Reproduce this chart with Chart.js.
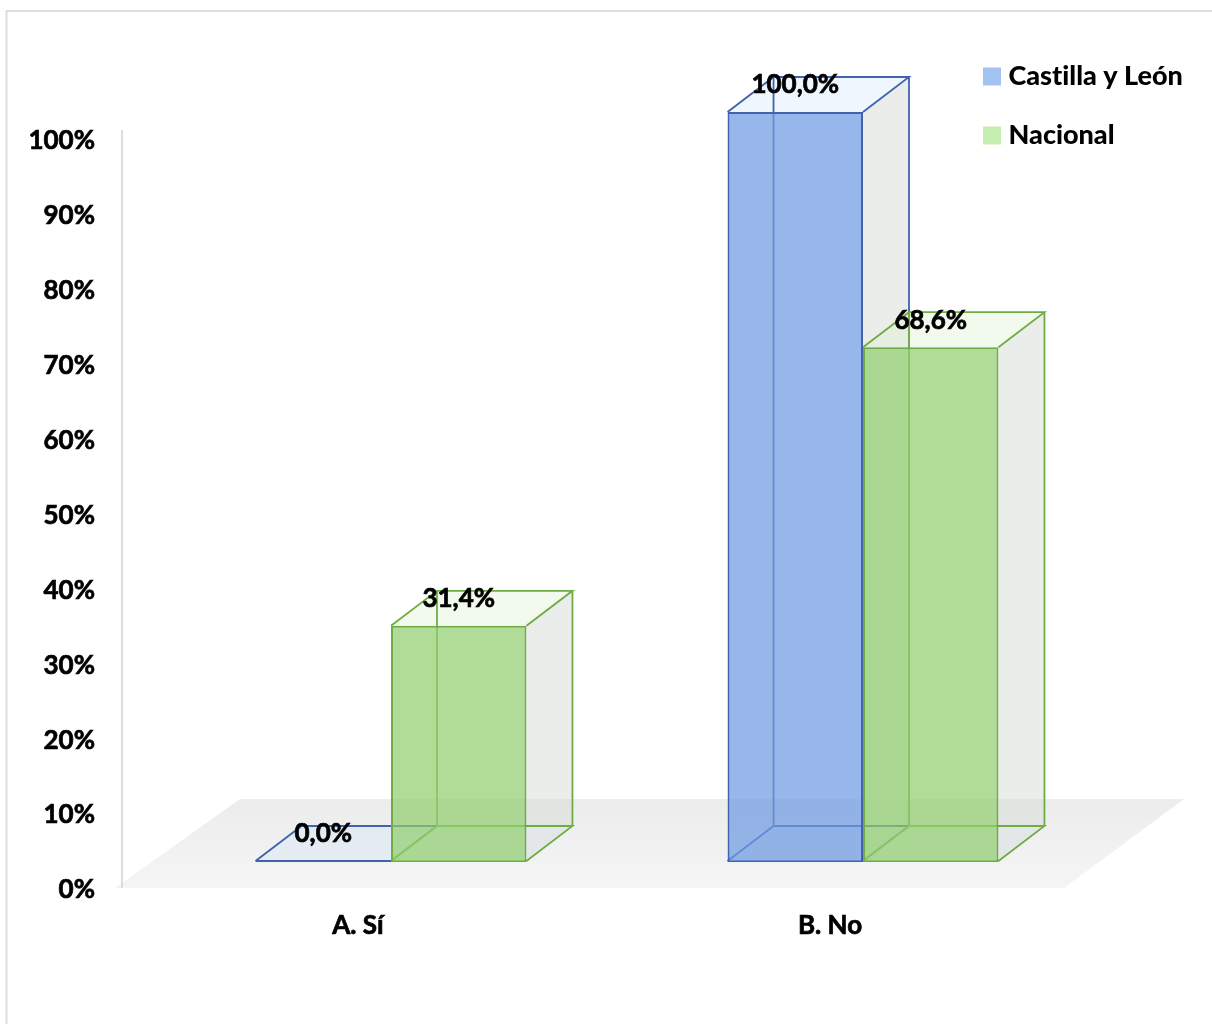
<!DOCTYPE html>
<html>
<head>
<meta charset="utf-8">
<style>
  html, body { margin: 0; padding: 0; background: #fff; }
  #wrap { width: 1212px; height: 1024px; }
</style>
<script src="https://cdn.jsdelivr.net/npm/chart.js@4/dist/chart.umd.min.js"></script>
</head>
<body>
<div id="wrap"><canvas id="chart" width="1212" height="1024"></canvas></div>
<script>
const categories = ['A. Sí', 'B. No'];
const castillaLeon = [0.0, 100.0];
const nacional = [31.4, 68.6];

const FONT = 'Lato, Carlito, sans-serif';
const DEPTH_X = 46;
const DEPTH_Y = -35;

function pct(v) {
  return v.toFixed(1).replace('.', ',') + '%';
}

// card, floor and value axis line sit behind the bars
const backdrop = {
  id: 'backdrop',
  beforeDraw(chart) {
    const { ctx, chartArea: a } = chart;
    ctx.textRendering = 'optimizeSpeed'; // no Lato "ti" ligature
    ctx.save();
    ctx.fillStyle = '#fff';
    ctx.fillRect(0, 0, chart.width, chart.height);
    ctx.strokeStyle = '#dedede';
    ctx.lineWidth = 2;
    ctx.beginPath();
    ctx.moveTo(6.5, chart.height);
    ctx.lineTo(6.5, 11);
    ctx.lineTo(chart.width, 11);
    ctx.stroke();

    const grad = ctx.createLinearGradient(0, a.bottom - 62, 0, a.bottom + 27);
    grad.addColorStop(0, '#ececec');
    grad.addColorStop(1, '#f5f5f5');
    ctx.fillStyle = grad;
    ctx.beginPath();
    ctx.moveTo(a.left - 40, a.bottom + 27);
    ctx.lineTo(a.right - 35, a.bottom + 27);
    ctx.lineTo(a.right + 85, a.bottom - 62);
    ctx.lineTo(a.left + 85, a.bottom - 62);
    ctx.closePath();
    ctx.fill();

    ctx.strokeStyle = '#dcdcdc';
    ctx.lineWidth = 2;
    ctx.beginPath();
    ctx.moveTo(122, a.top + 18);
    ctx.lineTo(122, a.bottom + 27);
    ctx.stroke();
    ctx.restore();
  }
};

// side, top and back of each box, taken from the bar elements
const box3d = {
  id: 'box3d',
  beforeDatasetsDraw(chart) {
    const { ctx } = chart;
    const base = chart.scales.y.getPixelForValue(0);
    ctx.save();
    chart.data.datasets.forEach((ds, i) => {
      chart.getDatasetMeta(i).data.forEach((bar) => {
        const half = bar.width / 2;
        const l = bar.x - half, r = bar.x + half, t = bar.y;
        const dx = DEPTH_X, dy = DEPTH_Y;
        ctx.lineWidth = 1.8;
        ctx.strokeStyle = ds.borderColor;

        // right side
        ctx.fillStyle = 'rgba(214,220,214,0.5)';
        ctx.beginPath();
        ctx.moveTo(r, base); ctx.lineTo(r + dx, base + dy);
        ctx.lineTo(r + dx, t + dy); ctx.lineTo(r, t);
        ctx.closePath();
        ctx.fill();

        // top
        ctx.fillStyle = ds.topColor;
        ctx.beginPath();
        ctx.moveTo(l, t); ctx.lineTo(l + dx, t + dy);
        ctx.lineTo(r + dx, t + dy); ctx.lineTo(r, t);
        ctx.closePath();
        ctx.fill();

        // floor of the box
        ctx.fillStyle = 'rgba(226,232,240,0.35)';
        ctx.beginPath();
        ctx.moveTo(l, base); ctx.lineTo(l + dx, base + dy);
        ctx.lineTo(r + dx, base + dy); ctx.lineTo(r, base);
        ctx.closePath();
        ctx.fill();

        // edges
        ctx.beginPath();
        ctx.moveTo(l, base); ctx.lineTo(l + dx, base + dy);
        ctx.lineTo(r + dx, base + dy); ctx.lineTo(r, base);
        ctx.moveTo(l + dx, base + dy); ctx.lineTo(l + dx, t + dy);
        ctx.moveTo(r + dx, base + dy); ctx.lineTo(r + dx, t + dy);
        ctx.moveTo(l, t); ctx.lineTo(l + dx, t + dy);
        ctx.lineTo(r + dx, t + dy); ctx.lineTo(r, t);
        ctx.moveTo(l, base); ctx.lineTo(r, base);
        ctx.stroke();
      });
    });
    ctx.restore();
  },
  afterDatasetsDraw(chart) {
    const { ctx } = chart;
    ctx.save();
    ctx.fillStyle = '#000';
    ctx.strokeStyle = '#000';
    ctx.lineWidth = 0.7;
    ctx.font = 'bold 26px ' + FONT;
    ctx.textAlign = 'center';
    ctx.textBaseline = 'middle';
    chart.data.datasets.forEach((ds, i) => {
      chart.getDatasetMeta(i).data.forEach((bar, j) => {
        ctx.fillText(pct(ds.data[j]), bar.x, bar.y - 27);
        ctx.strokeText(pct(ds.data[j]), bar.x, bar.y - 27);
      });
    });
    ctx.restore();
  }
};

// the legend sits over the top right corner, outside the plot area
const legendPlace = {
  id: 'legendPlace',
  afterLayout(chart) {
    const lg = chart.legend;
    lg.left = 957;
    lg.right = 1212;
    lg.top = 31;
    lg.bottom = 500;
  }
};

new Chart(document.getElementById('chart'), {
  type: 'bar',
  data: {
    labels: categories,
    datasets: [
      {
        label: 'Castilla y León',
        data: castillaLeon,
        backgroundColor: 'rgba(111,155,226,0.72)',
        borderColor: '#3f63ad',
        topColor: 'rgba(214,232,250,0.4)',
        legendColor: '#a3c4f3',
        borderWidth: 2,
        clip: false
      },
      {
        label: 'Nacional',
        data: nacional,
        backgroundColor: 'rgba(146,207,112,0.72)',
        borderColor: '#6fac46',
        topColor: 'rgba(222,240,210,0.4)',
        legendColor: '#c5efb0',
        borderWidth: 2,
        clip: false
      }
    ]
  },
  options: {
    responsive: false,
    animation: false,
    layout: { padding: { left: 30, right: 113, top: 112, bottom: 0 } },
    datasets: { bar: { categoryPercentage: 0.574, barPercentage: 1 } },
    scales: {
      x: {
        grid: { display: false, drawTicks: false },
        border: { display: false },
        ticks: {
          color: '#000',
          font: { family: FONT, size: 26, weight: 'bold' },
          textStrokeColor: '#000',
          textStrokeWidth: 0.7,
          padding: 49,
          labelOffset: -33,
          maxRotation: 0
        },
        afterFit(scale) { scale.height = 163; }
      },
      y: {
        min: 0,
        max: 100,
        grid: { display: false, drawTicks: false },
        border: { display: false },
        ticks: {
          stepSize: 10,
          color: '#000',
          font: { family: FONT, size: 26, weight: 'bold' },
          textStrokeColor: '#000',
          textStrokeWidth: 0.7,
          padding: 60,
          labelOffset: 29,
          callback: (v) => v + '%'
        },
        afterFit(scale) { scale.width = 125; }
      }
    },
    plugins: {
      tooltip: { enabled: false },
      legend: {
        position: 'chartArea',
        align: 'start',
        labels: {
          color: '#000',
          font: { family: FONT, size: 27, weight: 900 },
          // small box plus a thick stroke: keeps the text close to the swatch
          boxWidth: 6,
          boxHeight: 6,
          padding: 32,
          generateLabels(chart) {
            return chart.data.datasets.map((ds, i) => ({
              text: ds.label,
              fillStyle: ds.legendColor,
              strokeStyle: ds.legendColor,
              lineWidth: 12,
              fontColor: '#000',
              datasetIndex: i
            }));
          }
        }
      }
    }
  },
  plugins: [backdrop, box3d, legendPlace]
});
</script>
</body>
</html>
